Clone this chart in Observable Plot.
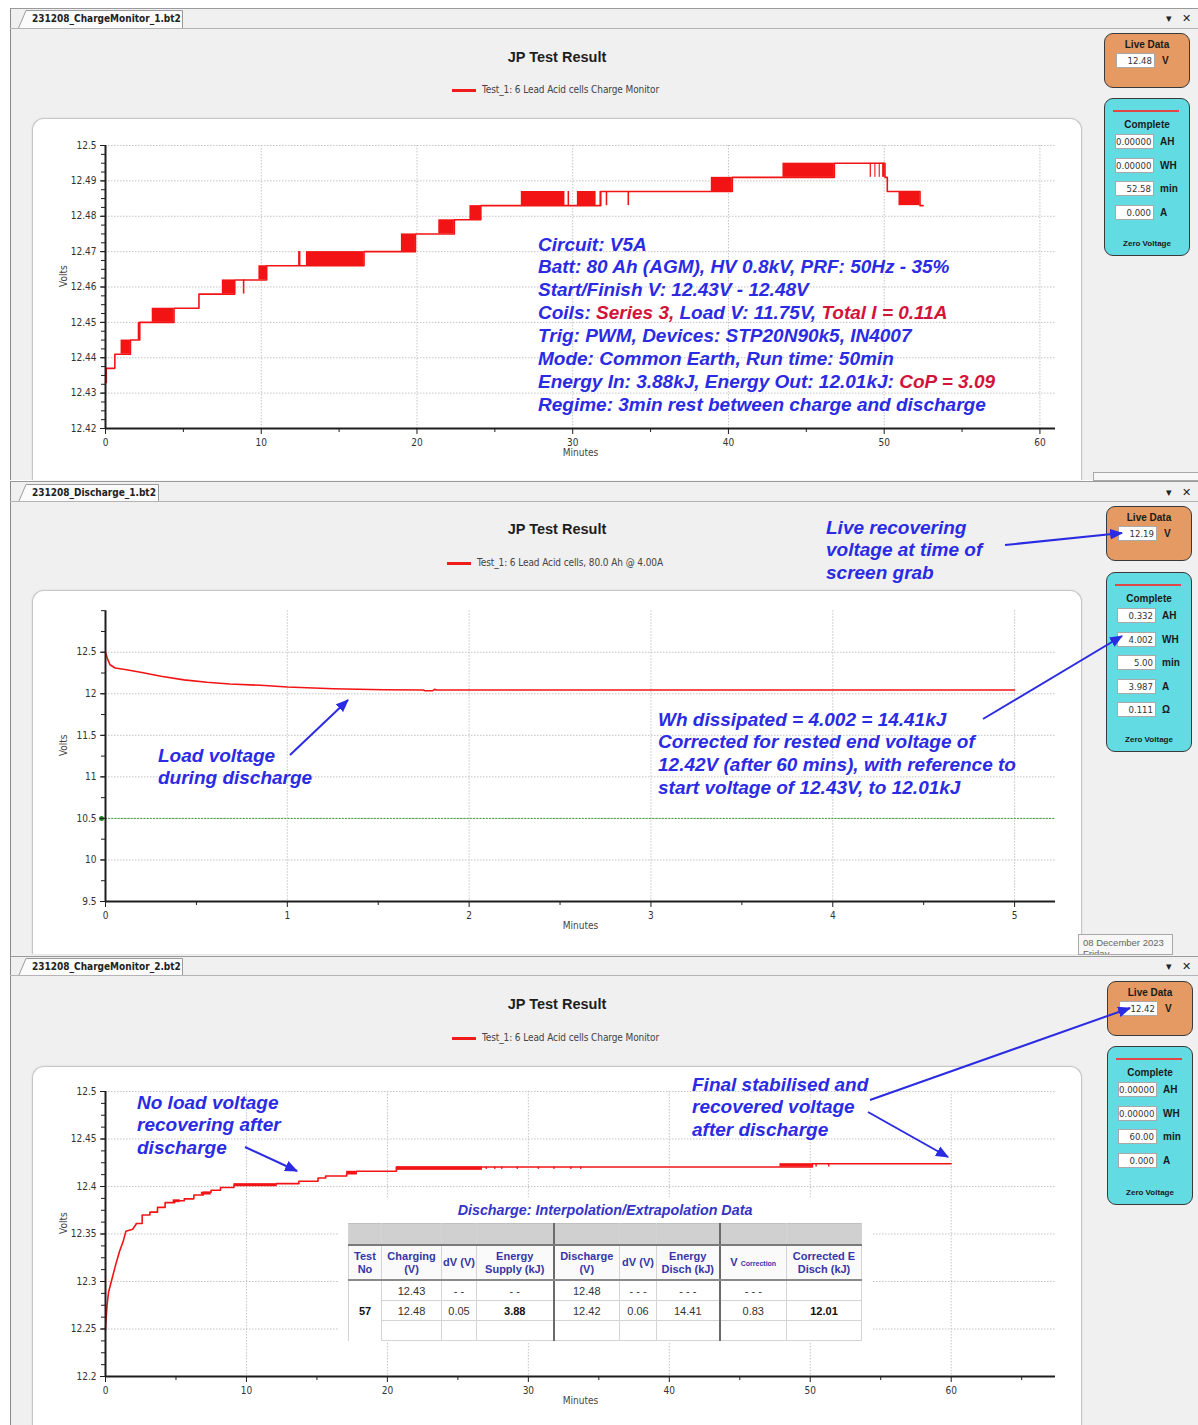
<!DOCTYPE html>
<html>
<head>
<meta charset="utf-8">
<title>JP Test Result</title>
<script src="https://cdn.jsdelivr.net/npm/d3@7"></script>
<script src="https://cdn.jsdelivr.net/npm/@observablehq/plot@0.6"></script>
<style>
html,body{margin:0;padding:0;background:#fff;}
#page{position:relative;width:1198px;height:1425px;overflow:hidden;background:#fff;font-family:"Liberation Sans",Arial,sans-serif;}
#page div{box-sizing:border-box;}
.panel{position:absolute;left:10px;width:1188px;background:#f0f0f0;border-left:1px solid #8a8a8a;border-top:1px solid #9a9a9a;}
.tabline{position:absolute;left:10px;width:1188px;height:1px;background:#b4b4b4;}
.tabtxt{position:absolute;font:bold 10px "Liberation Sans Narrow","DejaVu Sans Condensed","Liberation Sans",Arial;color:#222;white-space:nowrap;line-height:12px;}
.icons{position:absolute;font:bold 11px "DejaVu Sans",sans-serif;color:#222;line-height:12px;}
.title{position:absolute;transform:translateX(-50%);font:bold 14.5px "Liberation Sans",Arial;color:#1e1e1e;white-space:nowrap;line-height:16px;}
.leg{position:absolute;height:3px;width:24px;background:#f01c1c;}
.legtxt{position:absolute;font:10px "Liberation Sans Narrow","DejaVu Sans Condensed","Liberation Sans",Arial;color:#444;white-space:nowrap;line-height:12px;letter-spacing:-0.1px;}
.box{position:absolute;left:32px;width:1050px;background:#fff;border:1px solid #c6c6c6;border-bottom:none;border-radius:12px 12px 0 0;box-shadow:0 0 2px rgba(0,0,0,0.12);}
.plotwrap{position:absolute;left:32px;width:1050px;height:360px;}
.live{position:absolute;width:86px;height:55px;background:#e49a62;border:1.5px solid #3a3a3a;border-radius:9px;}
.comp{position:absolute;width:86px;background:#62dbe3;border:1.5px solid #3a3a3a;border-radius:9px;}
.wl{position:absolute;left:0;right:0;text-align:center;font:bold 10px "Liberation Sans",Arial;color:#1a1a1a;line-height:12px;}
.inp{position:absolute;background:#fff;border:1px solid #a9a9a9;font:9.5px "Liberation Sans Narrow","DejaVu Sans Condensed","Liberation Sans";color:#333;text-align:right;padding-right:2px;line-height:13px;}
.unit{position:absolute;font:bold 10px "Liberation Sans",Arial;color:#1a1a1a;line-height:12px;}
.redbar{position:absolute;height:2px;background:#e04848;}
.zv{position:absolute;left:0;right:0;text-align:center;font:bold 8px "Liberation Sans",Arial;color:#1a1a1a;line-height:10px;}
.ann{position:absolute;font:italic bold 19px "Liberation Sans",Arial;color:#2b2be3;line-height:22.9px;white-space:nowrap;}
.ann .r{color:#d3143a;}
.datebox{position:absolute;background:#f7f7f7;border:1px solid #a8a8a8;font:9.5px "Liberation Sans Narrow","Liberation Sans";color:#666;padding:2px 4px;line-height:11px;overflow:hidden;}
#cover{position:absolute;left:339px;top:1197px;width:533px;height:146px;background:#fff;}
#ttitle{position:absolute;left:605px;top:1202px;transform:translateX(-50%);font:italic bold 14.3px "Liberation Sans",Arial;color:#3434c8;white-space:nowrap;line-height:16px;}
#tbl{position:absolute;left:348px;top:1223px;width:513px;border-collapse:collapse;table-layout:fixed;font:11px "Liberation Sans",Arial;color:#333;}
#tbl td{border:1px solid #d4d4d4;text-align:center;padding:0;overflow:hidden;white-space:nowrap;}
#tbl tr.g td{background:#d0d0d0;height:20px;border-bottom:2px solid #7a7a7a;border-top:1px solid #c0c0c0;}
#tbl tr.h td{height:33px;font-weight:bold;color:#3636a6;line-height:13px;border-bottom:2px solid #8a8a8a;background:#fafafa;}
#tbl tr.d td{height:19px;}
#tbl td.sep{border-right:2px solid #6a6a6a;}
#tbl td.nb{border-top:none;border-bottom:none;}
#tbl small{font-size:7px;}
#arrows{position:absolute;left:0;top:0;pointer-events:none;}
</style>
</head>
<body>
<div id="page"></div>
<script>
// ================= DATA =================
const panelFiles = ["231208_ChargeMonitor_1.bt2", "231208_Discharge_1.bt2", "231208_ChargeMonitor_2.bt2"];
const chartTitle = "JP Test Result";
const legendLabels = [
  "Test_1: 6 Lead Acid cells Charge Monitor",
  "Test_1: 6 Lead Acid cells, 80.0 Ah @ 4.00A",
  "Test_1: 6 Lead Acid cells Charge Monitor"
];

// Chart 1 – charge monitor 1 (minutes, volts), stepped level line
const charge1Minutes = [0, 0.05, 0.6, 1.6, 2.2, 4.4, 6.0, 8.3, 10.35, 16.6, 19.9, 22.4, 24.1, 31.8, 40.25, 46.8, 50.05, 50.2, 52.3, 52.5];
const charge1Volts   = [12.433, 12.437, 12.441, 12.445, 12.450, 12.454, 12.458, 12.462, 12.466, 12.470, 12.475, 12.479, 12.483, 12.487, 12.491, 12.495, 12.491, 12.487, 12.483, 12.483];
// rapid toggling between two adjacent levels: [from min, to min, low V, high V]
const charge1Toggles = [
  [0.0, 0.12, 12.433, 12.437], [1.0, 1.6, 12.441, 12.445], [2.1, 2.25, 12.445, 12.450],
  [3.0, 4.4, 12.450, 12.454], [7.5, 8.3, 12.458, 12.462], [8.85, 8.95, 12.458, 12.462],
  [9.85, 10.35, 12.462, 12.466], [12.4, 12.55, 12.466, 12.470], [12.9, 16.6, 12.466, 12.470],
  [19.0, 19.9, 12.470, 12.475], [21.4, 22.4, 12.475, 12.479], [23.4, 24.1, 12.479, 12.483],
  [26.7, 29.5, 12.483, 12.487], [29.7, 29.8, 12.483, 12.487], [30.3, 31.5, 12.483, 12.487],
  [31.75, 31.85, 12.483, 12.487], [32.15, 32.25, 12.483, 12.487], [33.55, 33.65, 12.483, 12.487],
  [38.9, 40.25, 12.487, 12.491], [43.5, 46.8, 12.491, 12.495],
  [49.1, 49.18, 12.491, 12.495], [49.4, 49.47, 12.491, 12.495], [49.68, 49.75, 12.491, 12.495], [49.9, 50.05, 12.491, 12.495],
  [50.95, 52.3, 12.483, 12.487]
];
const chart1XTicks = [0, 10, 20, 30, 40, 50, 60];
const chart1YTicks = [12.42, 12.43, 12.44, 12.45, 12.46, 12.47, 12.48, 12.49, 12.5];

// Chart 2 – discharge (minutes, volts)
const dischargeMinutes = [0, 0.011, 0.025, 0.053, 0.116, 0.2, 0.305, 0.432, 0.558, 0.684, 0.853, 1.0, 1.253, 1.526, 1.747, 1.758, 1.80, 1.81, 1.821, 5.0];
const dischargeVolts   = [12.50, 12.42, 12.35, 12.31, 12.29, 12.256, 12.211, 12.167, 12.138, 12.118, 12.102, 12.081, 12.061, 12.049, 12.045, 12.037, 12.037, 12.053, 12.045, 12.045];
const cutoffVolts = [10.5];
const chart2XTicks = [0, 1, 2, 3, 4, 5];
const chart2YTicks = [9.5, 10, 10.5, 11, 11.5, 12, 12.5];

// Chart 3 – charge monitor 2 (recovery after discharge)
const charge2EarlyMinutes = [0, 0.05, 0.11, 0.22, 0.43, 0.71, 0.98, 1.25, 1.45, 1.93, 2.2];
const charge2EarlyVolts   = [12.249, 12.262, 12.275, 12.289, 12.301, 12.317, 12.331, 12.342, 12.353, 12.355, 12.361];
const charge2LateMinutes  = [2.2, 2.6, 3.15, 3.69, 4.23, 4.91, 5.59, 6.27, 6.94, 7.49, 8.16, 9.11, 12.1, 13.72, 15.08, 15.62, 17.11, 17.79, 20.64, 50.15, 60];
const charge2LateVolts    = [12.361, 12.370, 12.373, 12.378, 12.383, 12.385, 12.387, 12.391, 12.394, 12.396, 12.399, 12.401, 12.403, 12.4055, 12.409, 12.411, 12.4135, 12.416, 12.4205, 12.424, 12.424];
const charge2Toggles = [
  [4.8, 5.3, 12.383, 12.386], [6.8, 7.5, 12.391, 12.394], [9.11, 12.1, 12.401, 12.403],
  [17.11, 17.79, 12.4135, 12.416], [20.64, 26.74, 12.417, 12.4205],
  [27.0, 27.1, 12.418, 12.4205], [27.6, 27.7, 12.418, 12.4205], [28.1, 28.2, 12.418, 12.4205],
  [29.2, 29.3, 12.418, 12.4205], [30.7, 30.8, 12.418, 12.4205], [31.8, 31.9, 12.418, 12.4205],
  [33.0, 33.1, 12.418, 12.4205], [33.7, 33.8, 12.418, 12.4205],
  [47.85, 50.15, 12.4205, 12.424], [50.4, 50.5, 12.4205, 12.424], [51.3, 51.4, 12.4205, 12.424]
];
const chart3XTicks = [0, 10, 20, 30, 40, 50, 60];
const chart3YTicks = [12.2, 12.25, 12.3, 12.35, 12.4, 12.45, 12.5];

// Side widgets
const liveVolts = ["12.48", "12.19", "12.42"];
const completeReadings = [
  [["0.00000", "AH"], ["0.00000", "WH"], ["52.58", "min"], ["0.000", "A"]],
  [["0.332", "AH"], ["4.002", "WH"], ["5.00", "min"], ["3.987", "A"], ["0.111", "Ω"]],
  [["0.00000", "AH"], ["0.00000", "WH"], ["60.00", "min"], ["0.000", "A"]]
];

// Table
const tableTitle = "Discharge: Interpolation/Extrapolation Data";
const tableHeaders = ["Test<br>No", "Charging<br>(V)", "dV (V)", "Energy<br>Supply (kJ)", "Discharge<br>(V)", "dV (V)", "Energy<br>Disch (kJ)", "V <small>Correction</small>", "Corrected E<br>Disch (kJ)"];
const tableColWidths = [33, 60, 35, 77, 66, 37, 63, 67, 75];
const tableRows = [
  ["", "12.43", "- -", "- -", "12.48", "- - -", "- - -", "- - -", ""],
  ["57", "12.48", "0.05", "3.88", "12.42", "0.06", "14.41", "0.83", "12.01"],
  ["", "", "", "", "", "", "", "", ""]
];
const tableBoldCols = [0, 3, 8];

// Annotations (segments: [text, isRed])
const notes1 = [
  [["Circuit: V5A", 0]],
  [["Batt: 80 Ah (AGM), HV 0.8kV, PRF: 50Hz - 35%", 0]],
  [["Start/Finish V: 12.43V - 12.48V", 0]],
  [["Coils: ", 0], ["Series 3,", 1], [" Load V: 11.75V, ", 0], ["Total I = 0.11A", 1]],
  [["Trig: PWM, Devices: STP20N90k5, IN4007", 0]],
  [["Mode: Common Earth, Run time: 50min", 0]],
  [["Energy In: 3.88kJ, Energy Out: 12.01kJ: ", 0], ["CoP = 3.09", 1]],
  [["Regime: 3min rest between charge and discharge", 0]]
];
const notesLive = ["Live recovering", "voltage at time of", "screen grab"];
const notesLoad = ["Load voltage", "during discharge"];
const notesWh = ["Wh dissipated = 4.002 = 14.41kJ", "Corrected for rested end voltage of", "12.42V (after 60 mins), with reference to", "start voltage of 12.43V, to 12.01kJ"];
const notesNoLoad = ["No load voltage", "recovering after", "discharge"];
const notesFinal = ["Final stabilised and", "recovered voltage", "after discharge"];
const dateLabel = ["08 December 2023", "Friday"];

// ================= BUILD =================
const page = document.getElementById("page");
const add = (html) => page.insertAdjacentHTML("beforeend", html);
const NARROW = '"Liberation Sans Narrow","DejaVu Sans Condensed","Liberation Sans",Arial,sans-serif';
const RED = "#f21414";

// panel layout (page px)
const panels = [
  {top: 8, h: 472, tabTop: 10, tabW: 165, lineY: 28, titleY: 49, legY: 90, legX: 452, boxTop: 118, boxH: 362,
   live: [1104, 33], comp: [1104, 98, 158]},
  {top: 481, h: 475, tabTop: 484, tabW: 141, lineY: 501, titleY: 521, legY: 563, legX: 447, boxTop: 590, boxH: 364,
   live: [1106, 506], comp: [1106, 572, 180]},
  {top: 956, h: 469, tabTop: 958, tabW: 165, lineY: 975, titleY: 996, legY: 1038, legX: 452, boxTop: 1066, boxH: 360,
   live: [1107, 981], comp: [1107, 1046, 159]}
];

panels.forEach((p, i) => {
  add(`<div class="panel" style="top:${p.top}px;height:${p.h}px"></div>`);
  add(`<svg style="position:absolute;left:18px;top:${p.tabTop}px" width="${p.tabW}" height="18"><path d="M0.5,18 L8,0.5 L${p.tabW - 0.5},0.5 L${p.tabW - 0.5},18" fill="#fbfbfb" stroke="#9a9a9a"/></svg>`);
  add(`<div class="tabtxt" style="left:32px;top:${p.tabTop + 3}px">${panelFiles[i]}</div>`);
  add(`<div class="tabline" style="top:${p.lineY}px"></div>`);
  add(`<div class="icons" style="left:1166px;top:${p.tabTop + 3}px">▾</div><div class="icons" style="left:1182px;top:${p.tabTop + 3}px">✕</div>`);
  add(`<div class="title" style="left:557px;top:${p.titleY}px">${chartTitle}</div>`);
  add(`<div class="leg" style="left:${p.legX}px;top:${p.legY - 1}px"></div>`);
  add(`<div class="legtxt" style="left:${p.legX + 30}px;top:${p.legY - 6}px">${legendLabels[i]}</div>`);
  add(`<div class="box" style="top:${p.boxTop}px;height:${p.boxH}px"></div>`);
  add(`<div class="plotwrap" id="plot${i}" style="top:${p.boxTop}px"></div>`);
  // live data widget
  const [lx, ly] = p.live;
  add(`<div class="live" style="left:${lx}px;top:${ly}px">
        <div class="wl" style="top:5px">Live Data</div>
        <div class="inp" style="left:11px;top:19px;width:39px;height:15px">${liveVolts[i]}</div>
        <div class="unit" style="left:57px;top:21px">V</div></div>`);
  const [cx, cy, ch] = p.comp;
  let rows = "";
  completeReadings[i].forEach(([v, u], k) => {
    rows += `<div class="inp" style="left:10px;top:${35 + k * 23.5}px;width:39px;height:15px">${v}</div>
             <div class="unit" style="left:55px;top:${37 + k * 23.5}px">${u}</div>`;
  });
  add(`<div class="comp" style="left:${cx}px;top:${cy}px;height:${ch}px">
        <div class="redbar" style="left:8px;top:11px;width:66px"></div>
        <div class="wl" style="top:20px">Complete</div>${rows}
        <div class="zv" style="top:${ch - 18}px">Zero Voltage</div></div>`);
});
// small date boxes
add(`<div class="datebox" style="left:1078px;top:934px;width:95px;height:21px">${dateLabel[0]}<br>${dateLabel[1]}</div>`);
add(`<div class="datebox" style="left:1093px;top:472px;width:110px;height:9px"></div>`);

// ---------- charts ----------
function chart(el, o) {
  const svg = Plot.plot({
    width: 1050, height: 360,
    marginLeft: 73, marginRight: 27, marginTop: o.marginTop, marginBottom: o.marginBottom,
    x: {domain: o.xDomain, axis: null},
    y: {domain: o.yDomain, axis: null},
    style: {background: "transparent", fontFamily: NARROW, fontSize: "10px", color: "#333", overflow: "visible"},
    marks: [
      Plot.gridY(o.yTicks, {stroke: "#c4c4c4", strokeOpacity: 1, strokeDasharray: "1.5,1.5"}),
      Plot.gridX(o.xGrid, {stroke: "#c4c4c4", strokeOpacity: 1, strokeDasharray: "1.5,1.5"}),
      ...o.marks,
      Plot.ruleX([o.xDomain[0]], {stroke: "#1e1e1e", strokeWidth: 2}),
      Plot.ruleY([o.yDomain[0]], {stroke: "#1e1e1e", strokeWidth: 2}),
      Plot.axisY(o.yTicks, {tickSize: 5, tickPadding: 4, tickFormat: d => String(d), label: null, stroke: "#1e1e1e", fill: "#333"}),
      Plot.axisY(o.yMinor, {tickSize: 4, tickFormat: () => "", label: null, stroke: "#1e1e1e"}),
      Plot.axisX(o.xTicks, {tickSize: 6, tickPadding: 4, tickFormat: d => String(d), label: null, stroke: "#1e1e1e", fill: "#333"}),
      Plot.axisX(o.xMinor, {tickSize: 4, tickFormat: () => "", label: null, stroke: "#1e1e1e"}),
      Plot.text(["Volts"], {text: d => d, frameAnchor: "left", rotate: -90, dx: -42, fill: "#444"}),
      Plot.text(["Minutes"], {text: d => d, frameAnchor: "bottom", dy: 27, fill: "#444"})
    ]
  });
  document.getElementById(el).appendChild(svg);
}
const toRects = (arr, color) => Plot.rect(arr, {x1: d => d[0], x2: d => d[1], y1: d => d[2], y2: d => d[3], fill: color});
const series = (mins, volts) => mins.map((m, i) => ({m, v: volts[i]}));
const minor = (a, b, s) => d3.range(Math.round((b - a) / s) + 1).map(k => +(a + k * s).toFixed(5));

chart("plot0", {
  marginTop: 27, marginBottom: 50,
  xDomain: [0, 61.0], yDomain: [12.42, 12.5],
  xTicks: chart1XTicks, xGrid: chart1XTicks.slice(1), xMinor: minor(5, 55, 10),
  yTicks: chart1YTicks, yMinor: minor(12.42, 12.5, 0.0025),
  marks: [
    toRects(charge1Toggles, RED),
    Plot.line(series(charge1Minutes, charge1Volts), {x: "m", y: "v", stroke: RED, strokeWidth: 1.6, curve: "step-after"})
  ]
});

chart("plot1", {
  marginTop: 20.2, marginBottom: 49,
  xDomain: [0, 5.225], yDomain: [9.5, 13],
  xTicks: chart2XTicks, xGrid: chart2XTicks.slice(1), xMinor: minor(0.5, 4.5, 1),
  yTicks: chart2YTicks, yMinor: minor(9.5, 13, 0.25),
  marks: [
    Plot.ruleY(cutoffVolts, {stroke: "#3aa03a", strokeWidth: 1, strokeDasharray: "2,1.2"}),
    Plot.dot(cutoffVolts, {x: () => 0, y: d => d, r: 2.5, fill: "#1f8a1f", dx: -4}),
    Plot.line(series(dischargeMinutes, dischargeVolts), {x: "m", y: "v", stroke: RED, strokeWidth: 1.6})
  ]
});

chart("plot2", {
  marginTop: 25, marginBottom: 50,
  xDomain: [0, 67.4], yDomain: [12.2, 12.5],
  xTicks: chart3XTicks, xGrid: chart3XTicks.slice(1), xMinor: minor(5, 65, 10),
  yTicks: chart3YTicks, yMinor: minor(12.2, 12.5, 0.0125),
  marks: [
    toRects(charge2Toggles, RED),
    Plot.line(series(charge2EarlyMinutes, charge2EarlyVolts), {x: "m", y: "v", stroke: RED, strokeWidth: 1.6}),
    Plot.line(series(charge2LateMinutes, charge2LateVolts), {x: "m", y: "v", stroke: RED, strokeWidth: 1.6, curve: "step-after"})
  ]
});

// ---------- table overlay ----------
add(`<div id="cover"></div><div id="ttitle">${tableTitle}</div>`);
let t = `<table id="tbl"><colgroup>${tableColWidths.map(w => `<col style="width:${w}px">`).join("")}</colgroup>`;
const sepCols = [3, 6];
t += `<tr class="g">` + tableColWidths.map((w, c) => `<td class="${sepCols.includes(c) ? "sep" : ""}"></td>`).join("") + `</tr>`;
t += `<tr class="h">` + tableHeaders.map((h, c) => `<td class="${sepCols.includes(c) ? "sep" : ""}">${h}</td>`).join("") + `</tr>`;
tableRows.forEach((r, ri) => {
  t += `<tr class="d">` + r.map((v, c) => {
    const cls = [sepCols.includes(c) ? "sep" : "", c === 0 ? "nb" : ""].join(" ");
    const b = (ri === 1 && tableBoldCols.includes(c)) ? "font-weight:bold;color:#111" : "";
    return `<td class="${cls}" style="${b}">${v}</td>`;
  }).join("") + `</tr>`;
});
t += `</table>`;
add(t);

// ---------- annotations ----------
function note(lines, x, y) {
  const html = lines.map(l => Array.isArray(l) ? l.map(([s, r]) => r ? `<span class="r">${s}</span>` : s).join("") : l).join("<br>");
  add(`<div class="ann" style="left:${x}px;top:${y}px">${html}</div>`);
}
note(notes1, 538, 233.5);
note(notesLive, 826, 516.5);
note(notesLoad, 158, 744.5);
note(notesWh, 658, 708.5);
note(notesNoLoad, 137, 1091.5);
note(notesFinal, 692, 1073.5);

const arrows = [
  [1005, 545, 1122, 533], [290, 755, 348, 700], [983, 719, 1122, 636],
  [245, 1147, 297, 1171], [870, 1100, 1130, 1008], [868, 1112, 948, 1157]
];
add(`<svg id="arrows" width="1198" height="1425">
  <defs><marker id="ah" viewBox="0 0 12 10" refX="11" refY="5" markerWidth="13" markerHeight="11" markerUnits="userSpaceOnUse" orient="auto">
  <path d="M0,0 L12,5 L0,10 z" fill="#2b2be3"/></marker></defs>
  ${arrows.map(([a, b, c, d]) => `<line x1="${a}" y1="${b}" x2="${c}" y2="${d}" stroke="#2b2be3" stroke-width="2" marker-end="url(#ah)"/>`).join("")}
</svg>`);
</script>
</body>
</html>
